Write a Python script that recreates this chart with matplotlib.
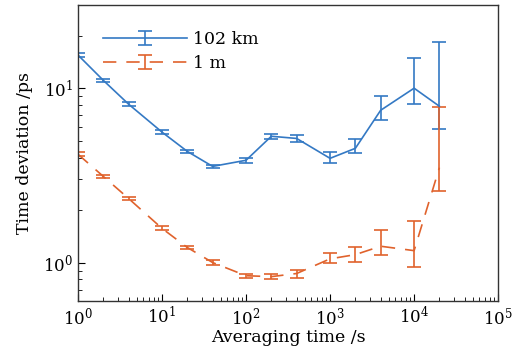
import numpy as np
import matplotlib
matplotlib.use("Agg")
import matplotlib.pyplot as plt
from matplotlib.legend_handler import HandlerErrorbar

plt.rcParams['font.family'] = ['DejaVu Serif']
plt.rcParams['mathtext.fontset'] = 'dejavuserif'

# averaging time (s)
tau = [1, 2, 4, 10, 20, 40, 100, 200, 400, 1000, 2000, 4000, 10000, 20000]

# 102 km link
dev_102km = [15.5, 11.1, 8.1, 5.6, 4.34, 3.56, 3.86, 5.3, 5.15, 3.96, 4.52, 7.47, 10.0, 7.88]
up_102km = [15.9, 11.35, 8.3, 5.75, 4.45, 3.64, 3.98, 5.48, 5.38, 4.29, 5.09, 9.0, 14.9, 18.4]
lo_102km = [15.1, 10.85, 7.9, 5.45, 4.23, 3.48, 3.74, 5.12, 4.92, 3.71, 4.23, 6.55, 8.1, 5.81]

# 1 m link
dev_1m = [4.18, 3.12, 2.33, 1.57, 1.22, 1.0, 0.84, 0.83, 0.865, 1.05, 1.11, 1.24, 1.17, 3.5]
up_1m = [4.28, 3.19, 2.39, 1.61, 1.25, 1.03, 0.86, 0.855, 0.91, 1.14, 1.22, 1.53, 1.72, 7.8]
lo_1m = [4.08, 3.05, 2.27, 1.53, 1.19, 0.97, 0.82, 0.805, 0.82, 0.99, 1.01, 1.10, 0.94, 2.56]

blue = '#3479c4'
orange = '#e0622c'

fig = plt.figure(figsize=(5.13, 3.59), dpi=100)
ax = fig.add_axes([0.152, 0.161, 0.819, 0.825])

d1 = np.array(dev_102km)
err1 = [d1 - np.array(lo_102km), np.array(up_102km) - d1]
ax.errorbar(tau, dev_102km, yerr=err1, color=blue, lw=1.2, capsize=5,
            elinewidth=1.2, capthick=1.2, label='102 km')

d2 = np.array(dev_1m)
err2 = [d2 - np.array(lo_1m), np.array(up_1m) - d2]
ax.errorbar(tau, dev_1m, yerr=err2, color=orange, lw=1.2, capsize=5,
            elinewidth=1.2, capthick=1.2, ls=(0, (8, 6)), label='1 m')

ax.set_xscale('log')
ax.set_yscale('log')
ax.set_xlim(1, 1e5)
ax.set_ylim(0.6, 30)

ax.tick_params(which='both', direction='in', top=False, right=False, labelsize=12)
ax.tick_params(which='major', length=5, width=0.8)
ax.tick_params(which='minor', length=3, width=0.6)
ax.set_xticks([1, 10, 100, 1e3, 1e4, 1e5])
ax.set_yticks([1, 10])

for s in ax.spines.values():
    s.set_linewidth(1.0)
    s.set_color('#333333')

ax.set_xlabel('Averaging time /s', fontsize=12.5, labelpad=1)
ax.set_ylabel('Time deviation /ps', fontsize=12.5, labelpad=7)

ax.legend(loc='upper left', bbox_to_anchor=(0.06, 0.912), frameon=False,
          fontsize=12.5, handlelength=4.8, handletextpad=0.4,
          labelspacing=0.4, borderpad=0, borderaxespad=0,
          handler_map={type(ax.containers[0]): HandlerErrorbar(yerr_size=0.38)})

fig.savefig('out.png', dpi=100)
